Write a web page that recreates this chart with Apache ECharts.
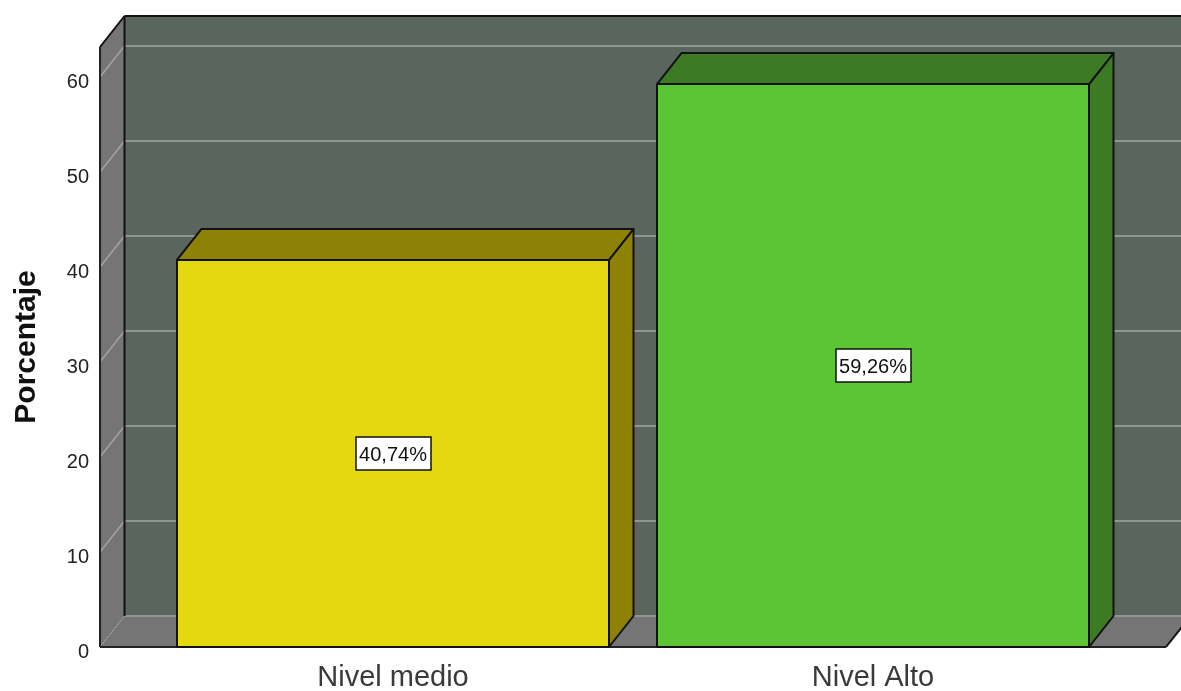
<!DOCTYPE html>
<html>
<head>
<meta charset="utf-8">
<style>html,body{margin:0;padding:0;background:#fff}#c{width:1181px;height:691px}</style>
<script src="https://cdn.jsdelivr.net/npm/echarts@6/dist/echarts.min.js"></script>
</head>
<body>
<div id="c"></div>
<script>
const categories = ['Nivel medio', 'Nivel Alto'];
const percentages = [40.74, 59.26];
const barLabels = ['40,74%', '59,26%'];
const yTicks = [0, 10, 20, 30, 40, 50, 60];
const yTop = 63.16;
const frontColors = ['#e4d80e', '#5dc436'];
const darkColors = ['#8d8205', '#3c7a24'];

const DX = 24.5, DY = 31, WING_L = 53, WING_R = 53;
const INK = '#111';
const chart = echarts.init(document.getElementById('c'), null, {renderer: 'canvas'});

function renderWalls(params, api) {
  const g = params.coordSys;
  const l = g.x - WING_L, r = g.x + g.width + WING_R, t = g.y, b = g.y + g.height;
  const kids = [];
  const poly = (pts, fill, stroke, w) => kids.push({type: 'polygon', shape: {points: pts},
    style: {fill: fill || 'none', stroke: stroke || 'none', lineWidth: w || 0}});
  const line = (x1, y1, x2, y2, stroke, w, dash) => kids.push({type: 'line',
    shape: {x1, y1, x2, y2}, style: {stroke, lineWidth: w, lineDash: dash || null}});
  poly([[l + DX, t - DY], [r + DX, t - DY], [r + DX, b - DY], [l + DX, b - DY]], '#5a655e');
  poly([[l, t], [l + DX, t - DY], [l + DX, b - DY], [l, b]], '#757575');
  poly([[l, b], [l + DX, b - DY], [r + DX, b - DY], [r, b]], '#757575');
  yTicks.forEach(v => {
    const y = api.coord([0, v])[1];
    line(l + DX, y - DY, r + DX, y - DY, '#8f9692', 2);
    if (v > 0) line(l, y, l + DX, y - DY, '#a3a3a3', 1.5);
    else line(l, y, l + DX, y - DY, '#a3a3a3', 1, [2, 2]);
  });
  line(l + DX, t - DY, l + DX, b - DY, INK, 2);
  line(l + DX, t - DY, r + DX, t - DY, INK, 2);
  line(l, t, l + DX, t - DY, INK, 2);
  line(l, t, l, b, '#222', 2);
  line(l, b, r, b, '#222', 2);
  line(r, b, r + DX, b - DY, INK, 2);
  return {type: 'group', children: kids};
}

function renderBar(params, api) {
  const i = api.value(0), v = api.value(1);
  const base = api.coord([i, 0]), top = api.coord([i, v]);
  const w = api.size([1, 0])[0] * 0.9;
  const x0 = base[0] - w / 2, x1 = base[0] + w / 2, y0 = top[1], y1 = base[1];
  const st = (fill) => ({fill, stroke: INK, lineWidth: 2, lineJoin: 'round'});
  return {type: 'group', children: [
    {type: 'polygon', shape: {points: [[x1, y0], [x1 + DX, y0 - DY], [x1 + DX, y1 - DY], [x1, y1]]}, style: st(darkColors[i])},
    {type: 'polygon', shape: {points: [[x0, y0], [x0 + DX, y0 - DY], [x1 + DX, y0 - DY], [x1, y0]]}, style: st(darkColors[i])},
    {type: 'rect', shape: {x: x0, y: y0, width: w, height: y1 - y0}, style: st(frontColors[i])},
    {type: 'rect', shape: {x: base[0] - 37, y: (y0 + y1) / 2 - 16.5, width: 75, height: 33},
      style: {fill: '#fff', stroke: INK, lineWidth: 1.5}},
    {type: 'text', x: base[0], y: (y0 + y1) / 2 + 2, style: {text: barLabels[i], fill: '#111',
      font: '20px "Liberation Sans"', align: 'center', verticalAlign: 'middle'}}
  ]};
}

chart.setOption({
  animation: false,
  backgroundColor: '#fff',
  grid: {left: 153, right: 68, top: 47, height: 600, outerBoundsMode: 'none', containLabel: false},
  xAxis: {type: 'category', data: categories,
    axisLine: {show: false}, axisTick: {show: false}, splitLine: {show: false},
    axisLabel: {fontFamily: 'Liberation Sans', fontSize: 29, color: '#3a3a3a', margin: 16}},
  yAxis: {type: 'value', min: 0, max: yTop, interval: 10, offset: 53,
    name: 'Porcentaje', nameLocation: 'middle', nameGap: 58,
    nameTextStyle: {fontFamily: 'Liberation Sans', fontWeight: 'bold', fontSize: 30, color: '#111'},
    axisLine: {show: false}, axisTick: {show: false}, splitLine: {show: false},
    axisLabel: {color: '#222', margin: 11, showMaxLabel: false,
      formatter: '{v|{value}}',
      rich: {v: {fontFamily: 'Liberation Sans', fontSize: 20, color: '#222', padding: [10, 0, 0, 0]}}}},
  series: [
    {type: 'custom', z: 1, silent: true, renderItem: renderWalls, data: [[0, 0]],
      encode: {x: 0, y: 1}},
    {type: 'custom', z: 2, silent: true, renderItem: renderBar,
      data: categories.map((c, i) => [i, percentages[i]]), encode: {x: 0, y: 1}}
  ]
});
</script>
</body>
</html>
